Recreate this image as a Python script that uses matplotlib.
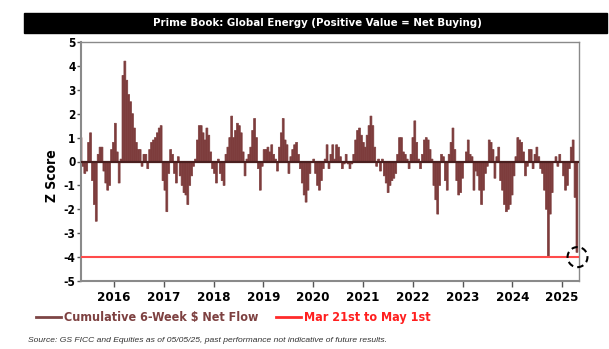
import numpy as np
import pandas as pd
import matplotlib
matplotlib.use("Agg")
import matplotlib.pyplot as plt
import matplotlib.dates as mdates
from matplotlib.patches import Ellipse, Rectangle
from matplotlib.lines import Line2D

plt.rcParams['font.family'] = ['DejaVu Sans']
plt.rcParams['font.stretch'] = 'condensed'

# biweekly z-score of cumulative 6-week net flow
seg_2015_2016 = [1.0, -0.2, -0.5, -0.4, 0.8, 1.2, -0.8, -1.8, -2.5, 0.3, 0.6, 0.6,
                 -0.4, -0.9, -1.2, -1.0, 0.5, 0.8, 1.6, 0.4, -0.9, 0.1, 3.6, 4.2,
                 3.4, 2.8, 2.5, 2.0, 1.4, 0.8, 0.5, 0.5, -0.2, 0.3, 0.3, -0.3,
                 0.5, 0.8, 0.9, 1.0, 1.2, 1.4, 1.5, -0.8]
seg_2017_2018 = [-1.2, -2.1, -0.5, 0.5, 0.3, -0.5, -0.9, 0.2, -0.6, -1.0, -1.3, -1.4,
                 -1.8, -1.0, -0.6, -0.2, 0.1, 0.9, 1.5, 1.5, 1.2, 0.9, 1.4, 1.1,
                 0.4, -0.3, -0.5, -0.9, 0.1, -0.5, -0.8, -1.0, 0.3, 0.6, 1.0, 1.9,
                 1.0, 1.3, 1.6, 1.5, 1.2, 0.4, -0.6, 0.1]
seg_2018_2020 = [0.3, 0.6, 1.3, 1.8, 1.0, -0.3, -1.2, -0.2, 0.5, 0.5, 0.6, 0.4,
                 0.7, 0.3, 0.1, -0.4, 0.6, 1.2, 1.8, 0.9, 0.7, -0.5, 0.2, 0.5,
                 0.7, 0.8, 0.3, -0.3, -0.9, -1.4, -1.7, -1.2, -0.5, 0.0, 0.1, -0.5,
                 -1.0, -1.2, -0.8, -0.3, 0.1, 0.7, -0.3]
seg_2020_2022 = [0.3, 0.7, 0.1, 0.7, 0.6, 0.2, -0.3, -0.1, 0.3, -0.1, -0.3, -0.1,
                 0.3, 0.9, 1.3, 1.4, 1.1, 0.8, 0.6, 1.1, 1.5, 1.9, 1.5, 0.6,
                 -0.2, 0.1, -0.4, 0.1, -0.6, -0.9, -1.3, -1.0, -0.8, -0.7, -0.5, 0.3,
                 1.0, 1.0, 0.4, 0.3, 0.1, -0.3, 0.3]
seg_2022_2023 = [1.0, 1.7, 0.8, 0.1, -0.3, 0.3, 0.9, 1.0, 0.9, 0.5, 0.1, -1.0,
                 -1.6, -2.2, -1.0, 0.3, 0.2, -0.8, -1.2, 0.3, 0.8, 1.4, 0.5, -0.8,
                 -1.4, -1.3, -0.7, 0.0, 0.4, 0.9, 0.3, 0.2, -1.2, -0.4, -0.6, -1.2,
                 -1.8, -1.2, -0.5, -0.2, 0.9, 0.8, 0.5, -0.7]
seg_2023_2025 = [0.2, 0.6, -0.8, -1.2, -1.8, -2.1, -2.0, -1.8, -1.4, -0.6, 0.2, 1.0,
                 0.9, 0.8, 0.4, -0.6, -0.2, 0.5, 0.5, -0.3, 0.3, 0.6, 0.2, -0.3,
                 -0.5, -1.2, -2.0, -4.0, -2.2, -1.3, 0.0, 0.2, -0.2, 0.3, 0.0, -0.6,
                 -1.2, -1.0, -0.3, 0.6, 0.9, -1.5, -3.8]

zscore = (seg_2015_2016 + seg_2017_2018 + seg_2018_2020 +
          seg_2020_2022 + seg_2022_2023 + seg_2023_2025)
dates = pd.date_range(end="2025-04-20", periods=len(zscore), freq="14D")

threshold = -4
years = list(range(2016, 2026))
title = "Prime Book: Global Energy (Positive Value = Net Buying)"
source = "Source: GS FICC and Equities as of 05/05/25, past performance not indicative of future results."

bar_col = "#7D3C3C"
red = "#FF4B4B"

fig = plt.figure(figsize=(6.09, 3.49), dpi=100)
ax = fig.add_axes([81 / 609, 1 - 281 / 349, 498 / 609, 239 / 349])

x = mdates.date2num(dates)
ax.bar(x, zscore, width=14, color=bar_col, edgecolor=bar_col, linewidth=0.5,
       snap=False, zorder=2)
ax.axhline(0, color="#4A1F1F", lw=1.6, zorder=3)
ax.axhline(threshold, color=red, lw=1.5, zorder=3)

xmin = mdates.date2num(pd.Timestamp("2015-05-03"))
xmax = mdates.date2num(pd.Timestamp("2025-05-05"))
ax.set_xlim(xmin, xmax)
ax.set_ylim(-5, 5)

# dashed circle around the latest reading
ax.add_patch(Ellipse((x[-1] + 4, threshold), width=146, height=0.84, fill=False,
                     ls=(0, (3, 2)), lw=1.5, color="black", zorder=5, clip_on=False))

ax.set_xticks([mdates.date2num(pd.Timestamp(f"{y}-01-01")) for y in years])
ax.set_xticklabels([str(y) for y in years], fontsize=9.5, fontweight="bold")
ax.set_yticks(range(-5, 6))
ax.set_yticklabels([str(v) for v in range(-5, 6)], fontsize=8.5, fontweight="bold")
ax.tick_params(axis="x", length=4, width=1, color="#555555", pad=3)
ax.tick_params(axis="y", length=3, width=1, color="#555555", pad=1)
for s in ax.spines.values():
    s.set_color("#8A8A8A")
    s.set_linewidth(1.0)
ax.spines["left"].set_linewidth(1.5)
ax.spines["bottom"].set_linewidth(1.5)

ax.set_ylabel("Z Score", fontsize=10, fontweight="bold")
ax.yaxis.set_label_coords(-0.044, 0.44)

# black title bar
fig.patches.append(Rectangle((24 / 609, 1 - 33 / 349), 583 / 609, 20 / 349,
                             transform=fig.transFigure, color="black", zorder=0))
fig.text(0.522, 1 - 23 / 349, title, color="white", fontsize=8.2, fontweight="bold",
         ha="center", va="center")

handles = [Line2D([], [], color="#7D4545", lw=2),
           Line2D([], [], color="#FF2A2A", lw=2)]
fig.legend(handles, ["Cumulative 6-Week $ Net Flow", "Mar 21st to May 1st"],
           loc="center", bbox_to_anchor=(0.383, 1 - 318 / 349), ncol=2, frameon=False,
           prop={"weight": "bold", "size": 9}, labelcolor=["#7D4040", "#FF1E1E"],
           handlelength=2.0, handletextpad=0.25, columnspacing=1.45)

fig.text(28 / 609, 1 - 341 / 349, source, fontsize=6.1, style="italic",
         color="#333333", ha="left", va="center", family=["Liberation Sans", "DejaVu Sans"])

fig.savefig("out.png", dpi=100)
